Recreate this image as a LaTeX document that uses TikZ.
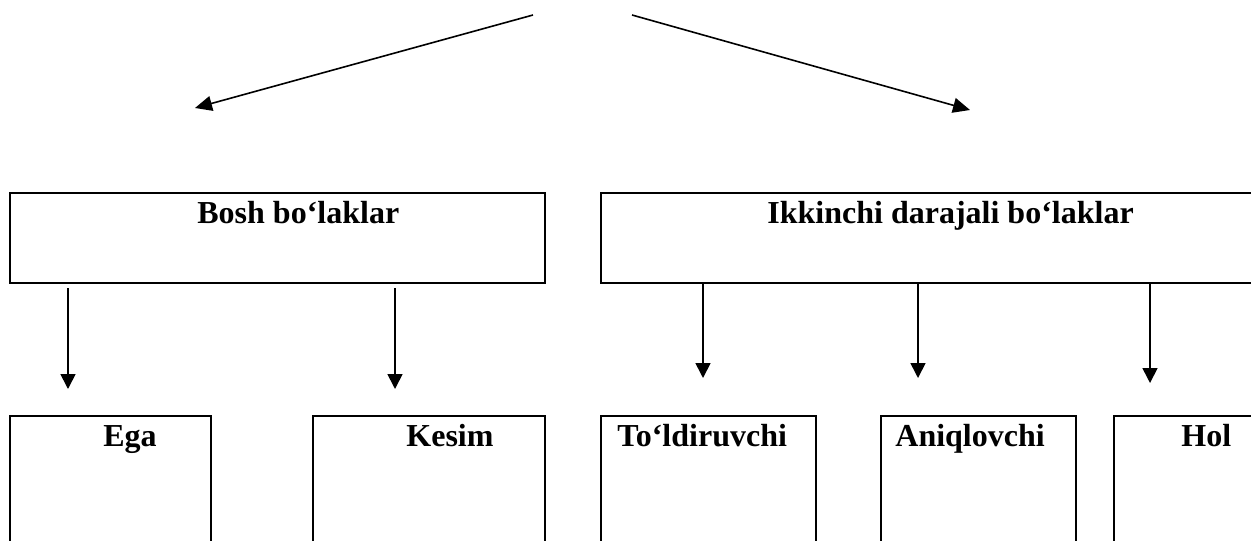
\documentclass[tikz,border=0pt]{standalone}
\usepackage{fontspec}
\setmainfont{Liberation Serif}
\usetikzlibrary{arrows.meta}
\begin{document}
\begin{tikzpicture}[x=0.5pt,y=-0.5pt,
  boxline/.style={draw=black,line width=1.15pt,rectangle,anchor=north west,inner sep=0pt,outer sep=0pt},
  lbl/.style={anchor=base west,inner sep=0pt,font=\fontsize{16}{19}\selectfont\bfseries},
  arr/.style={draw=black,line width=0.85pt,-{Triangle[length=7.5pt,width=7.5pt]}},
  diag/.style={draw=black,line width=0.8pt,-{Triangle[length=8.5pt,width=7.5pt]}}]
\useasboundingbox (0,0) rectangle (1251,540);
\clip (0,0) rectangle (1251,540);
% top boxes
\node[boxline,minimum width=267.5pt,minimum height=45pt] (bosh) at (10,193) {};
\node[boxline,minimum width=335pt,minimum height=45pt] (ikk) at (601,193) {};
\node[lbl] (boshT) at (197,223) {Bosh bo‘laklar};
\node[lbl] (ikkT) at (767,223) {Ikkinchi darajali bo‘laklar};
% bottom boxes
\node[boxline,minimum width=100.5pt,minimum height=80pt] (egaB) at (10,416) {};
\node[boxline,minimum width=116pt,minimum height=80pt] (kesimB) at (313,416) {};
\node[boxline,minimum width=107.5pt,minimum height=80pt] (tolB) at (601,416) {};
\node[boxline,minimum width=97.5pt,minimum height=80pt] (aniqB) at (881,416) {};
\node[boxline,minimum width=90pt,minimum height=80pt] (holB) at (1114,416) {};
\node[lbl] (ega) at (103,446) {Ega};
\node[lbl] (kesim) at (406,446) {Kesim};
\node[lbl] (tol) at (617,446) {To‘ldiruvchi};
\node[lbl] (aniq) at (895,446) {Aniqlovchi};
\node[lbl] (hol) at (1181,446) {Hol};
% top diagonal arrows
\coordinate (lS) at (533,15);
\coordinate (lE) at (195,108);
\coordinate (rS) at (632,15);
\coordinate (rE) at (970,110);
\draw[diag] (lS) -- (lE);
\draw[diag] (rS) -- (rE);
% vertical arrows
\coordinate (a1) at (68,288);   \coordinate (b1) at (68,389);
\coordinate (a2) at (395,288);  \coordinate (b2) at (395,389);
\coordinate (x3) at (703,378);
\coordinate (x4) at (918,378);
\coordinate (x5) at (1150,383);
\draw[arr] (a1) -- (b1);
\draw[arr] (a2) -- (b2);
\draw[arr] (ikk.south -| x3) -- (x3);
\draw[arr] (ikk.south -| x4) -- (x4);
\draw[arr] (ikk.south -| x5) -- (x5);
\end{tikzpicture}
\end{document}
